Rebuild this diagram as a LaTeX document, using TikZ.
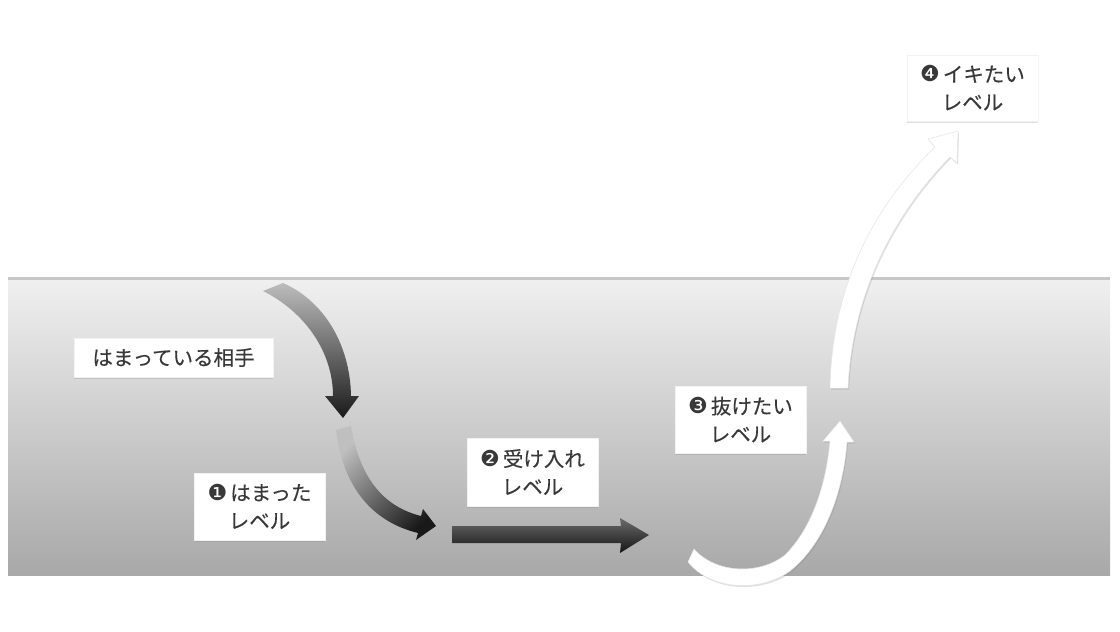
\documentclass[tikz,border=0pt]{standalone}
\usepackage{fontspec}
\newfontfamily\jp[FakeBold=0.3]{Noto Sans CJK JP}
\newfontfamily\dv{DejaVu Sans}
\usetikzlibrary{shadows}
\begin{document}
\begin{tikzpicture}[x=1pt,y=-1pt,
  lbl/.style={fill=white, draw=black!5, line width=0.5pt, text=black!78,
    font=\jp\fontsize{20.5}{28}\selectfont,
    align=center, inner sep=0pt,
    drop shadow={opacity=0.25, shadow xshift=0pt, shadow yshift=-1.5pt}},
  whitearrow/.style={fill=white, draw=black!10, line width=0.5pt,
    drop shadow={opacity=0.25, shadow xshift=1pt, shadow yshift=-1.5pt}},
  num/.style={}]
\useasboundingbox (0,0) rectangle (1120,632);
\fill[white] (0,0) rectangle (1120,632);
% band
\shade[top color=black!6, bottom color=black!34] (8,279) rectangle (1110,575);
\fill[black!22] (8,277) rectangle (1110,280);

% arrow 1 (curved, down)
\shade[top color=black!26, bottom color=black!90]
  (263,291) .. controls (305,312) and (333,352) .. (333,396)
  -- (325,396) -- (343,418) -- (359,396) -- (351,396)
  .. controls (350,342) and (322,300) .. (283,283) -- cycle;

% arrow 2 (curved, down-right)
\shade[top color=black!25, bottom color=black!90, shading angle=45]
  (336,430) .. controls (343,488) and (373,522) .. (418,533)
  -- (416,540) -- (436,526) -- (423,509) -- (421,516)
  .. controls (385,507) and (360,480) .. (351,426) -- cycle;

% arrow 3 (straight)
\shade[top color=black!58, bottom color=black!92]
  (452,526) -- (621,526) -- (620,518) -- (649,535) -- (620,553) -- (621,543)
  -- (452,543) -- cycle;

% arrow 4 (white U)
\path[whitearrow]
  (688,562) .. controls (710,590) and (760,593) .. (790,571)
  .. controls (825,543) and (843,492) .. (847,442)
  -- (854,442) -- (840,421) -- (823,441) -- (830,441)
  .. controls (826,485) and (812,528) .. (785,555)
  .. controls (760,575) and (716,574) .. (694,549) -- cycle;

% arrow 5 (white, up-right)
\path[whitearrow]
  (830,388) .. controls (832,290) and (870,210) .. (935,147)
  -- (928,139) -- (958,131) -- (957,163) -- (950,157)
  .. controls (893,215) and (852,295) .. (848,388) -- cycle;

% labels
\node[lbl, minimum width=199pt, minimum height=39pt] (b0) at (173.5,357.5) {はまっている相手};
\node[lbl, minimum width=131pt, minimum height=67pt] (b1) at (259.5,506.5)
  {{\dv\fontsize{22}{28}\selectfont ❶}\hspace{3pt}はまった\\レベル};
\node[lbl, minimum width=131pt, minimum height=68pt] (b2) at (532.5,472)
  {{\dv\fontsize{22}{28}\selectfont ❷}\hspace{3pt}受け入れ\\レベル};
\node[lbl, minimum width=131pt, minimum height=67pt] (b3) at (740.5,419.5)
  {{\dv\fontsize{22}{28}\selectfont ❸}\hspace{3pt}抜けたい\\レベル};
\node[lbl, minimum width=131pt, minimum height=66pt] (b4) at (972.5,88)
  {{\dv\fontsize{22}{28}\selectfont ❹}\hspace{3pt}イキたい\\レベル};
\end{tikzpicture}
\end{document}
